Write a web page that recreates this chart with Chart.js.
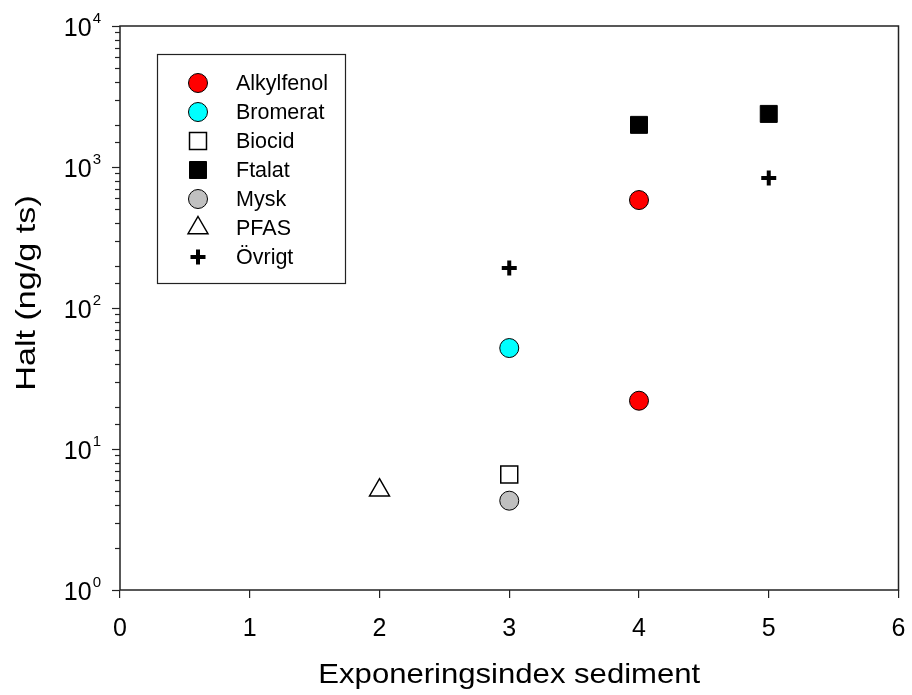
<!DOCTYPE html>
<html><head><meta charset="utf-8">
<script src="https://cdn.jsdelivr.net/npm/chart.js@4/dist/chart.umd.min.js"></script>
<style>html,body{margin:0;padding:0;background:#fff;}</style>
</head><body>
<canvas id="c" width="912" height="695" style="display:block;width:912px;height:695px"></canvas>
<script>
// ---- data ----
const seriesNames = ['Alkylfenol', 'Bromerat', 'Biocid', 'Ftalat', 'Mysk', 'PFAS', 'Övrigt'];
const alkylfenolX = [4, 4];
const alkylfenolY = [583, 22];
const bromeratX = [3];
const bromeratY = [52];
const biocidX = [3];
const biocidY = [6.6];
const ftalatX = [4, 5];
const ftalatY = [1990, 2380];
const myskX = [3];
const myskY = [4.3];
const pfasX = [2];
const pfasY = [5.1];
const ovrigtX = [3, 5];
const ovrigtY = [192, 836];
const xTicks = [0, 1, 2, 3, 4, 5, 6];
const yDecades = [0, 1, 2, 3, 4];
const xTitle = 'Exponeringsindex sediment';
const yTitle = 'Halt (ng/g ts)';

const FONT = '"Liberation Sans", Arial, sans-serif';
function pts(xs, ys) { return xs.map((x, i) => ({ x: x, y: ys[i] })); }

const styles = [
  { pointStyle: 'circle', radius: 9.5, bg: '#ff0000', border: '#000', bw: 1 },
  { pointStyle: 'circle', radius: 9.5, bg: '#00ffff', border: '#000', bw: 1 },
  { pointStyle: 'rect', radius: 12, bg: '#ffffff', border: '#000', bw: 1.5 },
  { pointStyle: 'rect', radius: 12, bg: '#000000', border: '#000', bw: 1 },
  { pointStyle: 'circle', radius: 9.5, bg: '#c0c0c0', border: '#000', bw: 1 },
  { pointStyle: 'triangle', radius: 11.5, bg: '#ffffff', border: '#000', bw: 1.5 },
  { pointStyle: 'cross', radius: 7.5, bg: '#000000', border: '#000', bw: 4 }
];
const seriesData = [
  pts(alkylfenolX, alkylfenolY), pts(bromeratX, bromeratY), pts(biocidX, biocidY),
  pts(ftalatX, ftalatY), pts(myskX, myskY), pts(pfasX, pfasY), pts(ovrigtX, ovrigtY)
];

const datasets = seriesNames.map((name, i) => ({
  label: name,
  data: seriesData[i],
  pointStyle: styles[i].pointStyle,
  pointRadius: styles[i].radius,
  pointHoverRadius: styles[i].radius,
  pointBackgroundColor: styles[i].bg,
  pointBorderColor: styles[i].border,
  pointBorderWidth: styles[i].bw,
  showLine: false
}));

function drawMarker(ctx, st, x, y) {
  ctx.save();
  ctx.fillStyle = st.bg; ctx.strokeStyle = st.border; ctx.lineWidth = st.bw;
  ctx.beginPath();
  const r = st.radius;
  if (st.pointStyle === 'circle') {
    ctx.arc(x, y, r, 0, Math.PI * 2); ctx.closePath(); ctx.fill(); ctx.stroke();
  } else if (st.pointStyle === 'rect') {
    const s = Math.SQRT1_2 * r; ctx.rect(x - s, y - s, 2 * s, 2 * s); ctx.fill(); ctx.stroke();
  } else if (st.pointStyle === 'triangle') {
    ctx.moveTo(x, y - r);
    ctx.lineTo(x + 0.866 * r, y + 0.5 * r);
    ctx.lineTo(x - 0.866 * r, y + 0.5 * r);
    ctx.closePath(); ctx.fill(); ctx.stroke();
  } else if (st.pointStyle === 'cross') {
    ctx.moveTo(x - r, y); ctx.lineTo(x + r, y);
    ctx.moveTo(x, y - r); ctx.lineTo(x, y + r); ctx.stroke();
  }
  ctx.restore();
}

const framePlugin = {
  id: 'frame',
  afterDraw(chart) {
    const ctx = chart.ctx, a = chart.chartArea, ys = chart.scales.y;
    ctx.save();
    ctx.strokeStyle = '#222'; ctx.lineWidth = 1.5;
    ctx.strokeRect(a.left, a.top, a.right - a.left, a.bottom - a.top);
    // y ticks
    ctx.lineWidth = 1.2;
    ys.ticks.forEach(t => {
      const v = t.value;
      const lg = Math.log10(v);
      const major = Math.abs(lg - Math.round(lg)) < 1e-9;
      const py = Math.round(ys.getPixelForValue(v)) + 0.5;
      ctx.beginPath();
      ctx.moveTo(a.left - (major ? 8 : 5), py); ctx.lineTo(a.left, py); ctx.stroke();
    });
    // y labels 10^n
    ctx.fillStyle = '#000';
    yDecades.forEach(d => {
      const py = ys.getPixelForValue(Math.pow(10, d));
      ctx.font = '15px ' + FONT;
      const sup = String(d);
      const sw = ctx.measureText(sup).width;
      const right = 101;
      ctx.textAlign = 'left'; ctx.textBaseline = 'alphabetic';
      ctx.fillText(sup, right - sw, py - 3);
      ctx.font = '25px ' + FONT;
      ctx.textAlign = 'right';
      ctx.fillText('10', right - sw - 1, py + 10);
    });
    // axis titles (slightly stretched like the original)
    ctx.fillStyle = '#000';
    ctx.font = '28px ' + FONT;
    ctx.textAlign = 'center'; ctx.textBaseline = 'alphabetic';
    ctx.save();
    ctx.translate((a.left + a.right) / 2, 683);
    ctx.scale(1.11, 1);
    ctx.fillText(xTitle, 0, 0);
    ctx.restore();
    ctx.save();
    ctx.translate(35, 293);
    ctx.rotate(-Math.PI / 2);
    ctx.scale(1.22, 1);
    ctx.fillText(yTitle, 0, 0);
    ctx.restore();
    // legend
    const lx = 157.5, ly = 54.5, lw = 188, lh = 229;
    ctx.lineWidth = 1.2; ctx.strokeStyle = '#222';
    ctx.strokeRect(lx, ly, lw, lh);
    ctx.font = '21.5px ' + FONT; ctx.textAlign = 'left'; ctx.textBaseline = 'middle';
    seriesNames.forEach((n, i) => {
      const yy = 83 + i * 29;
      drawMarker(ctx, styles[i], 198, yy);
      ctx.fillStyle = '#000';
      ctx.fillText(n, 236, yy + 1);
    });
    ctx.restore();
  }
};

new Chart(document.getElementById('c'), {
  type: 'scatter',
  data: { datasets: datasets },
  options: {
    responsive: false,
    animation: false,
    events: [],
    layout: { padding: { top: 26, right: 12, left: 0, bottom: 0 } },
    plugins: { legend: { display: false }, tooltip: { enabled: false } },
    scales: {
      x: {
        type: 'linear', min: 0, max: 6,
        afterBuildTicks(s) { s.ticks = xTicks.map(v => ({ value: v })); },
        afterFit(s) { s.height = 105; s.paddingLeft = 0; s.paddingRight = 0; },
        ticks: { color: '#000', font: { family: FONT, size: 25 }, padding: 16, maxRotation: 0 },
        grid: { drawOnChartArea: false, tickLength: 8, color: '#222', lineWidth: 1.2 },
        border: { display: false },
        title: { display: false }
      },
      y: {
        type: 'logarithmic', min: 1, max: 10000,
        afterFit(s) { s.width = 120; s.paddingTop = 0; s.paddingBottom = 0; },
        ticks: { display: false },
        grid: { display: false },
        border: { display: false },
        title: { display: false }
      }
    }
  },
  plugins: [framePlugin]
});
</script>
</body></html>
